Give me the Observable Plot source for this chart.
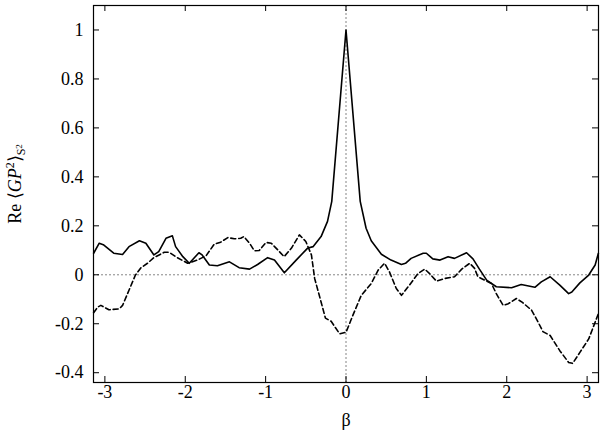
<!DOCTYPE html>
<html><head><meta charset="utf-8">
<script src="https://cdn.jsdelivr.net/npm/d3@7"></script>
<script src="https://cdn.jsdelivr.net/npm/@observablehq/plot@0.6"></script>
<style>body{margin:0;background:#fff}</style>
</head><body><div id="chart"></div>
<script>
// Solid curve
const solidX = [-3.14,-3.07,-3.02,-2.89,-2.78,-2.70,-2.57,-2.49,-2.39,-2.33,-2.24,-2.16,-2.12,-2.03,-1.95,-1.83,-1.79,-1.70,-1.60,-1.45,-1.33,-1.20,-1.10,-0.975,-0.89,-0.767,-0.62,-0.48,-0.41,-0.31,-0.23,-0.177,0,0.177,0.25,0.314,0.44,0.56,0.69,0.74,0.81,0.96,1.0,1.08,1.17,1.27,1.35,1.50,1.58,1.66,1.75,1.87,2.06,2.18,2.35,2.43,2.54,2.66,2.77,2.81,2.91,3.02,3.10,3.14];
const solidY = [0.088,0.129,0.123,0.088,0.083,0.115,0.139,0.129,0.081,0.095,0.149,0.159,0.115,0.074,0.047,0.090,0.081,0.040,0.037,0.053,0.029,0.023,0.042,0.070,0.060,0.008,0.060,0.108,0.115,0.156,0.218,0.300,1.0,0.300,0.19,0.139,0.084,0.060,0.042,0.047,0.067,0.088,0.088,0.065,0.060,0.074,0.067,0.090,0.065,0.023,-0.022,-0.049,-0.053,-0.040,-0.051,-0.029,-0.008,-0.042,-0.077,-0.070,-0.033,-0.001,0.040,0.088];
// Dashed curve
const dashX = [-3.14,-3.09,-3.05,-2.95,-2.82,-2.78,-2.70,-2.62,-2.55,-2.47,-2.39,-2.26,-2.20,-2.10,-1.97,-1.85,-1.74,-1.64,-1.56,-1.47,-1.39,-1.31,-1.27,-1.20,-1.14,-1.08,-0.995,-0.93,-0.85,-0.77,-0.68,-0.58,-0.50,-0.43,-0.39,-0.31,-0.256,-0.185,-0.08,0.0,0.085,0.19,0.314,0.40,0.48,0.54,0.626,0.69,0.79,0.895,0.98,1.04,1.125,1.23,1.35,1.44,1.54,1.60,1.64,1.75,1.81,1.87,1.955,2.02,2.12,2.20,2.31,2.39,2.45,2.54,2.66,2.77,2.82,2.91,3.02,3.14];
const dashY = [-0.155,-0.132,-0.125,-0.143,-0.139,-0.125,-0.063,-0.001,0.029,0.047,0.070,0.092,0.092,0.070,0.047,0.060,0.078,0.125,0.133,0.152,0.147,0.149,0.156,0.129,0.098,0.099,0.132,0.129,0.102,0.074,0.108,0.163,0.136,0.081,-0.015,-0.111,-0.177,-0.190,-0.241,-0.235,-0.166,-0.084,-0.036,0.019,0.047,0.012,-0.056,-0.084,-0.042,0.005,0.023,0.005,-0.026,-0.015,-0.008,0.023,0.047,0.026,-0.008,-0.026,-0.036,-0.077,-0.125,-0.118,-0.097,-0.114,-0.145,-0.193,-0.232,-0.248,-0.310,-0.358,-0.362,-0.317,-0.262,-0.159];
// Ticks
const xTicks = [-3,-2,-1,0,1,2,3];
const yTicks = [-0.4,-0.2,0,0.2,0.4,0.6,0.8,1];

const solid = solidX.map((x,i)=>({x, y: solidY[i]}));
const dashed = dashX.map((x,i)=>({x, y: dashY[i]}));

const W=600, H=432, mL=93, mR=2, mT=5, mB=50;
const plotW = W-mL-mR, plotH = H-mT-mB;
const tk = 6;
const FONT = "'Liberation Serif', 'Times New Roman', serif";

const chart = Plot.plot({
  width: W, height: H,
  marginLeft: mL, marginRight: mR, marginTop: mT, marginBottom: mB,
  style: {fontFamily: FONT, fontSize: "18px", background: "#fff", color: "#000"},
  x: {domain: [-Math.PI, Math.PI]},
  y: {domain: [-0.44, 1.1]},
  marks: [
    Plot.ruleY([0], {stroke: "#666", strokeWidth: 0.8, strokeDasharray: "2,2"}),
    Plot.ruleX([0], {stroke: "#666", strokeWidth: 0.8, strokeDasharray: "2,2"}),
    Plot.line(solid, {x: "x", y: "y", stroke: "#000", strokeWidth: 1.6}),
    Plot.line(dashed, {x: "x", y: "y", stroke: "#000", strokeWidth: 1.6, strokeDasharray: "5,3"}),
    Plot.ruleX(xTicks, {x: d => d, insetTop: plotH - tk, stroke: "#000"}),
    Plot.ruleX(xTicks, {x: d => d, insetBottom: plotH - tk, stroke: "#000"}),
    Plot.ruleY(yTicks, {y: d => d, insetRight: plotW - tk, stroke: "#000"}),
    Plot.ruleY(yTicks, {y: d => d, insetLeft: plotW - tk, stroke: "#000"}),
    Plot.axisX(xTicks, {tickSize: 0, tickPadding: 3, tickFormat: d => String(d), label: null, fontSize: 18}),
    Plot.axisY(yTicks, {tickSize: 0, tickPadding: 10, tickFormat: d => String(d), label: null, fontSize: 18}),
    Plot.text(["β"], {frameAnchor: "bottom", dy: 38, text: d => d, fontSize: 18, lineAnchor: "middle"}),
    Plot.frame({stroke: "#000", strokeWidth: 1.2})
  ]
});

const svg = d3.select(chart);
const lab = svg.append("text")
  .attr("transform", "translate(21,184) rotate(-90)")
  .attr("text-anchor", "middle")
  .attr("font-family", FONT)
  .attr("font-size", 18)
  .attr("fill", "#000");
lab.append("tspan").text("Re \u27E8");
lab.append("tspan").attr("font-style", "italic").text("GP");
lab.append("tspan").attr("font-size", 12).attr("dy", -7).text("2");
lab.append("tspan").attr("dy", 7).text("\u27E9");
lab.append("tspan").attr("font-size", 12).attr("dy", 4).text("S");
lab.append("tspan").attr("font-size", 9).attr("dy", -3).text("2");

document.getElementById("chart").appendChild(chart);
</script>
</body></html>
